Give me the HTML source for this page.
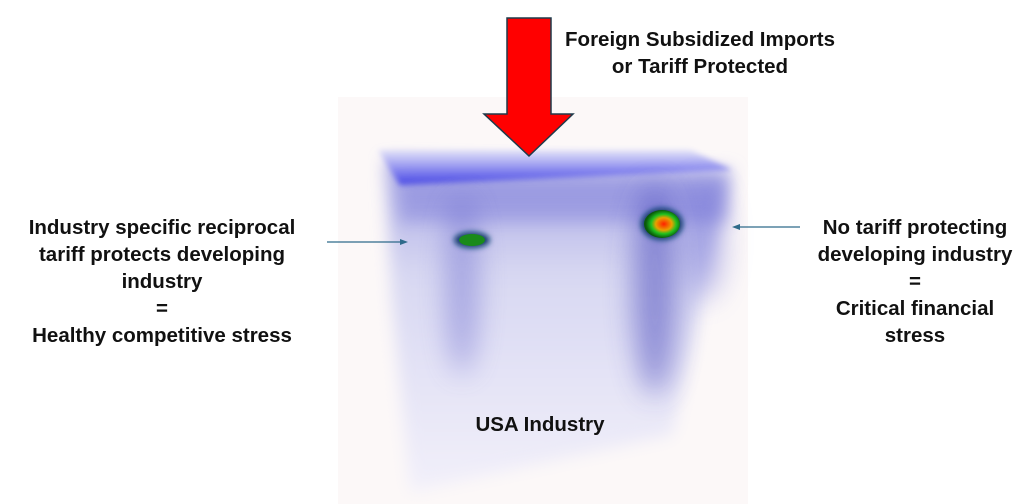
<!DOCTYPE html>
<html><head><style>
body{margin:0;width:1024px;height:504px;background:#fff;overflow:hidden;font-family:"Liberation Sans",sans-serif}
.t{position:absolute;font-weight:bold;font-size:20.5px;line-height:27px;color:#111;text-align:center;white-space:nowrap}
</style></head><body>
<svg width="1024" height="504" style="position:absolute;left:0;top:0">
<defs>
<filter id="b8" x="-50%" y="-50%" width="200%" height="200%"><feGaussianBlur stdDeviation="8"/></filter>
<filter id="b14" x="-100%" y="-50%" width="300%" height="200%"><feGaussianBlur stdDeviation="14"/></filter>
<filter id="b3" x="-50%" y="-50%" width="200%" height="200%"><feGaussianBlur stdDeviation="3"/></filter>
<linearGradient id="top" x1="0" y1="0" x2="0" y2="1">
<stop offset="0" stop-color="#e4e4f8"/><stop offset="1" stop-color="#4444e8"/></linearGradient>
<linearGradient id="front" x1="0" y1="0" x2="0" y2="1">
<stop offset="0" stop-color="#a8a8e4"/><stop offset="0.35" stop-color="#d8d8f2"/><stop offset="1" stop-color="#f2f0fa"/></linearGradient>
<radialGradient id="hot" cx="0.55" cy="0.5" r="0.5">
<stop offset="0" stop-color="#ff2000"/><stop offset="0.45" stop-color="#e8a000"/><stop offset="0.7" stop-color="#20c020"/><stop offset="1" stop-color="#0a5a0a"/></radialGradient>
</defs>
<rect x="338" y="97" width="410" height="407" fill="#fcf8f8"/>
<polygon points="385,160 732,170 672,435 410,492 392,300" fill="url(#front)" filter="url(#b8)"/>
<polygon points="378,150 690,150 732,170 400,185" fill="url(#top)" filter="url(#b3)"/>
<rect x="400" y="182" width="330" height="40" fill="#5a5ad0" opacity="0.3" filter="url(#b8)"/>
<ellipse cx="462" cy="285" rx="16" ry="90" fill="#5555c8" opacity="0.4" filter="url(#b14)"/>
<ellipse cx="655" cy="290" rx="22" ry="105" fill="#3c3cb8" opacity="0.5" filter="url(#b14)"/>
<ellipse cx="705" cy="240" rx="20" ry="60" fill="#5a5ad0" opacity="0.35" filter="url(#b14)"/>
<ellipse cx="472" cy="240" rx="18" ry="8" fill="#0a3a6a" filter="url(#b3)"/>
<ellipse cx="472" cy="240" rx="13" ry="6" fill="#1a8a1a"/>
<ellipse cx="662" cy="224" rx="21" ry="16" fill="#0a3a6a" filter="url(#b3)"/>
<ellipse cx="662" cy="224" rx="18" ry="14" fill="url(#hot)"/>
<polygon points="507,18 551,18 551,114 573,114 529,156 484,114 507,114" fill="#ff0000" stroke="#1f3a4a" stroke-width="1.5"/>
<line x1="327" y1="242" x2="402" y2="242" stroke="#2e6a8a" stroke-width="1.3"/>
<polygon points="408,242 400,239 400,245" fill="#2e6a8a"/>
<line x1="738" y1="227" x2="800" y2="227" stroke="#2e6a8a" stroke-width="1.3"/>
<polygon points="732,227 740,224 740,230" fill="#2e6a8a"/>
</svg>
<div class="t" style="left:560px;top:26px;width:280px">Foreign Subsidized Imports<br>or Tariff Protected</div>
<div class="t" style="left:2px;top:214px;width:320px">Industry specific reciprocal<br>tariff protects developing<br>industry<br>=<br>Healthy competitive stress</div>
<div class="t" style="left:800px;top:214px;width:230px">No tariff protecting<br>developing industry<br>=<br>Critical financial<br>stress</div>
<div class="t" style="left:440px;top:411px;width:200px">USA Industry</div>
</body></html>
